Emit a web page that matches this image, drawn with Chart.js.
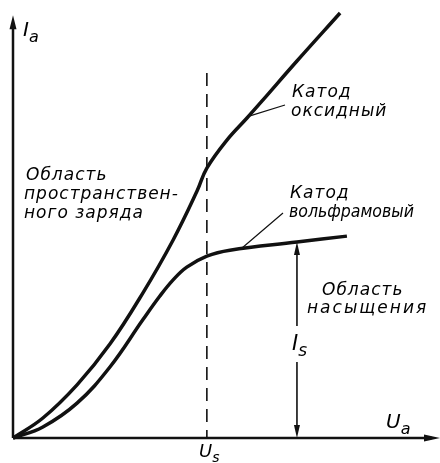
<!DOCTYPE html>
<html>
<head>
<meta charset="utf-8">
<script src="https://cdn.jsdelivr.net/npm/chart.js@4/dist/chart.umd.min.js"></script>
<style>
  html, body { margin: 0; padding: 0; background: #fff; }
  #wrap { width: 440px; height: 463px; }
</style>
</head>
<body>
<div id="wrap"><canvas id="chart" width="440" height="463"></canvas></div>
<script>
// ---- Curves: anode current vs anode voltage (relative units, 0..100) ----
const oxideU = [0, 7.0, 15.0, 22.7, 30.4, 37.5, 43.1, 45.4, 50.1, 54.8, 58.5, 66.5, 76.6];
const oxideI = [0, 4.7, 12.5, 22.1, 34.1, 46.6, 58.1, 63.5, 70.1, 75.3, 79.5, 88.7, 100];

const tungstenU = [0, 7.0, 15.0, 22.7, 30.4, 34.4, 37.5, 40.7, 45.4, 50.8, 66.5, 78.2];
const tungstenI = [0, 2.6, 8.2, 16.7, 27.8, 33.4, 37.2, 40.2, 42.8, 44.2, 46.1, 47.5];

// saturation voltage U_s and the point where I_s is measured
const saturationU = 45.4;
const dashTop = 85.9;
const isU = 66.5;
const isI = 46.1;

const toPts = (xs, ys) => xs.map((x, i) => ({ x, y: ys[i] }));

const INK = "#111";
const FONT = '"DejaVu Sans", sans-serif';

function arrowHead(ctx, x, y, dir, len, half) {
  // dir: unit vector pointing to the tip
  const [dx, dy] = dir;
  const bx = x - dx * len, by = y - dy * len;
  ctx.beginPath();
  ctx.moveTo(x, y);
  ctx.lineTo(bx - dy * half, by + dx * half);
  ctx.lineTo(bx + dy * half, by - dx * half);
  ctx.closePath();
  ctx.fill();
}

function subLabel(ctx, main, sub, x, y, size) {
  ctx.font = `italic ${size}px ${FONT}`;
  ctx.fillText(main, x, y);
  const w = ctx.measureText(main).width;
  ctx.font = `italic ${Math.round(size * 0.8)}px ${FONT}`;
  ctx.fillText(sub, x + w, y + size * 0.3);
}

// ---- Axes, dashed U_s line, I_s arrow and labels ----
const diagram = {
  id: "diagram",
  beforeDatasetsDraw(chart) {
    const { ctx, scales: { x, y } } = chart;
    const x0 = x.getPixelForValue(0), y0 = y.getPixelForValue(0);
    ctx.save();
    ctx.strokeStyle = INK;
    ctx.fillStyle = INK;

    // axes
    ctx.lineWidth = 2.5;
    ctx.beginPath();
    ctx.moveTo(x0, y0);
    ctx.lineTo(x0, y.getPixelForValue(99.5) + 8);
    ctx.moveTo(x0, y0);
    ctx.lineTo(x.getPixelForValue(100) - 8, y0);
    ctx.stroke();
    arrowHead(ctx, x0, y.getPixelForValue(99.5), [0, -1], 14, 3.5);
    arrowHead(ctx, x.getPixelForValue(100), y0, [1, 0], 16, 3.5);

    // U_s dashed line
    const xs = x.getPixelForValue(saturationU);
    ctx.lineWidth = 1.6;
    ctx.setLineDash([13, 8]);
    ctx.beginPath();
    ctx.moveTo(xs, y.getPixelForValue(dashTop));
    ctx.lineTo(xs, y0);
    ctx.stroke();
    ctx.setLineDash([]);

    // I_s double arrow with a gap for the label
    const xi = x.getPixelForValue(isU);
    const yTop = y.getPixelForValue(isI);
    ctx.lineWidth = 1.6;
    ctx.beginPath();
    ctx.moveTo(xi, yTop + 6);
    ctx.lineTo(xi, 326);
    ctx.moveTo(xi, 362);
    ctx.lineTo(xi, y0 - 6);
    ctx.stroke();
    arrowHead(ctx, xi, yTop, [0, -1], 13, 3);
    arrowHead(ctx, xi, y0, [0, 1], 13, 3);

    // leader lines to the curve labels
    ctx.lineWidth = 1.2;
    ctx.beginPath();
    ctx.moveTo(x.getPixelForValue(55.5), y.getPixelForValue(75.8));
    ctx.lineTo(285, 105);
    ctx.moveTo(x.getPixelForValue(53.5), y.getPixelForValue(44.6));
    ctx.lineTo(283, 213);
    ctx.stroke();

    // text
    ctx.textBaseline = "alphabetic";
    ctx.textAlign = "left";
    ctx.fillStyle = "#000";
    ctx.letterSpacing = "1px";
    ctx.font = `italic 17px ${FONT}`;
    ctx.fillText("Область", 26, 180);
    ctx.fillText("пространствен-", 24, 199);
    ctx.fillText("ного заряда", 24, 218);

    ctx.fillText("Катод", 292, 97);
    ctx.fillText("оксидный", 291, 116);

    ctx.fillText("Катод", 290, 198);
    ctx.fillText("Область", 322, 295);
    ctx.letterSpacing = "2px";
    ctx.fillText("насыщения", 307, 313);
    ctx.letterSpacing = "0px";
    ctx.fillText("вольфрамовый", 289, 217, 125);

    subLabel(ctx, "I", "a", 23, 36, 20);
    subLabel(ctx, "U", "a", 386, 428, 20);
    subLabel(ctx, "U", "s", 199, 457, 18);
    subLabel(ctx, "I", "s", 292, 350, 21);

    ctx.restore();
  }
};

new Chart(document.getElementById("chart"), {
  type: "line",
  data: {
    datasets: [
      {
        label: "Катод оксидный",
        data: toPts(oxideU, oxideI),
        borderColor: INK,
        borderWidth: 3.5,
        pointRadius: 0,
        tension: 0.4,
        clip: false,
      },
      {
        label: "Катод вольфрамовый",
        data: toPts(tungstenU, tungstenI),
        borderColor: INK,
        borderWidth: 3.5,
        pointRadius: 0,
        tension: 0.4,
        clip: false,
      },
    ],
  },
  options: {
    responsive: false,
    animation: false,
    layout: { padding: { left: 13, right: 0, top: 13, bottom: 25 } },
    plugins: { legend: { display: false }, tooltip: { enabled: false } },
    scales: {
      x: { type: "linear", min: 0, max: 100, display: false },
      y: { type: "linear", min: 0, max: 100, display: false },
    },
  },
  plugins: [diagram],
});
</script>
</body>
</html>
